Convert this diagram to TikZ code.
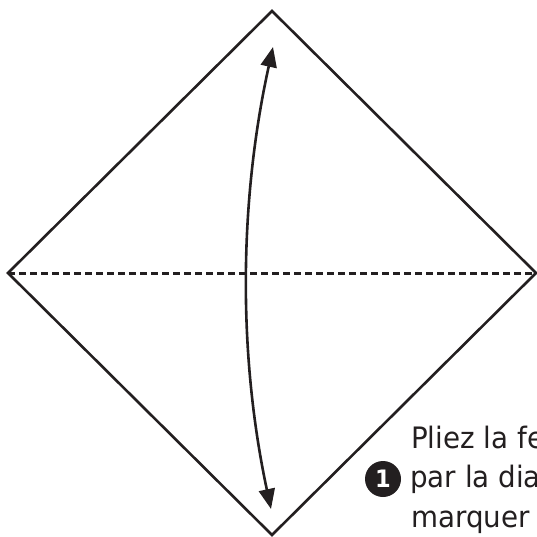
\documentclass[tikz,border=0pt]{standalone}
\usepackage{fontspec}
\setmainfont{DejaVu Sans}[FakeStretch=0.94]
\usetikzlibrary{arrows.meta}
\definecolor{ink}{HTML}{231F20}
\begin{document}
\begin{tikzpicture}[x=1pt,y=-1pt,
  edge/.style={draw=ink,line width=2.6pt,line join=miter},
  foldline/.style={draw=ink,line width=3pt,dash pattern=on 7pt off 4pt},
  movearrow/.style={draw=ink,line width=2.6pt,{Triangle[length=20pt,width=16pt]}-{Triangle[length=20pt,width=16pt]}},
  caption/.style={anchor=base west,inner sep=0pt,font=\fontsize{29.5}{34}\selectfont,text=ink},
  stepnum/.style={circle,fill=ink,minimum size=36pt,inner sep=0pt,text=white,font=\fontsize{24}{24}\selectfont\bfseries}]
\useasboundingbox (0,0) rectangle (537,537);
\coordinate (T) at (272,11);
\coordinate (B) at (272,535);
\coordinate (L) at (8,273);
\coordinate (R) at (536,273);
\draw[edge] (T) -- (R) -- (B) -- (L) -- cycle;
\draw[foldline] (L) -- (R);
\coordinate (a1) at (271,509);
\coordinate (a2) at (273,47);
\draw[movearrow] (a1) .. controls (238,355) and (239,201) .. (a2);
\node[stepnum] (num) at (383,479) {1};
\node[caption] (l1) at (411,448) {Pliez la feuille};
\node[caption] (l2) at (410,487) {par la diagonale};
\node[caption] (l3) at (411,527) {marquer le pli};
\end{tikzpicture}
\end{document}
